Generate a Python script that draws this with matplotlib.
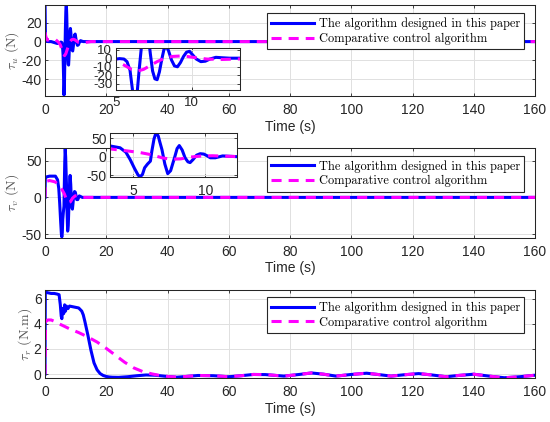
import matplotlib
matplotlib.use("Agg")
import matplotlib.pyplot as plt

plt.rcParams['font.family'] = ['Liberation Sans', 'DejaVu Sans']
plt.rcParams['mathtext.fontset'] = 'cm'
plt.rcParams['axes.unicode_minus'] = False

# ---------------- data ----------------
# tau_u
tu_blue_t = [0, 0.15, 0.4, 1.0, 2.0, 3.0, 4.0, 4.8, 5.2, 5.5, 5.7, 5.9, 6.05, 6.2, 6.35, 6.5, 6.65,
             6.8, 6.95, 7.1, 7.25, 7.4, 7.55, 7.7, 7.85, 8.0, 8.15, 8.3, 8.45, 8.65, 8.85, 9.05, 9.25,
             9.45, 9.65, 9.85, 10.05, 10.3, 10.6, 10.9, 11.2, 11.6, 12.0, 12.5, 13.0, 14.0, 160]
tu_blue_v = [45, 2, 0.5, 0, 0, -1, -2, -1.5, -0.5, -1, -4, -14, -35, -57, -45, -15, 12,
             32, 42, 28, 5, -15, -24, -25, -16, -2, 10, 14, 9, -2, -9, -10, -5,
             2, 7, 8, 4, -1, -4, -3.5, -1, 1, 0.5, 0, 0, 0, 0]
tu_mag_t = [0, 0.3, 0.8, 1.5, 2.5, 3.5, 4.5, 5.0, 5.5, 6.0, 6.4, 6.8, 7.2, 7.7, 8.2, 8.7, 9.2,
            9.7, 10.3, 11.0, 12.0, 13.0, 15.0, 160]
tu_mag_v = [10, 5, 1.5, 2, 3, 2, -1, -3.5, -8, -13, -15, -13, -9, -4, 0, 2, 2.5,
            2, 0.5, -1, -1.5, -1, 0, 0]

# tau_v
tv_blue_t = [0, 0.1, 0.5, 1.5, 2.5, 3.4, 4.1, 4.5, 4.8, 5.1, 5.35, 5.5, 5.65, 5.8, 6.0, 6.2,
             6.3, 6.45, 6.6, 6.75, 6.85, 7.0, 7.2, 7.4, 7.6, 7.9, 8.05, 8.2, 8.4, 8.6, 8.8,
             8.95, 9.15, 9.4, 9.65, 9.9, 10.1, 10.35, 10.7, 11.2, 11.7, 12.2, 13.0, 160]
tv_blue_v = [0, 26, 28, 29, 29, 29, 24, 12, -8, -32, -50, -54, -48, -30, -20, -12,
             15, 48, 66, 55, 40, 19, -20, -46, -38, 1, 22, 30, 18, -3, -14,
             -16, -8, 4, 8, 7, 3, -3, -3, 2, 1, 0, 0, 0]
tv_mag_t = [0, 0.1, 0.5, 1.5, 2.5, 3.4, 4.5, 5.5, 6.3, 7.0, 7.6, 8.3, 9.0, 9.8, 10.5, 11.5,
            12.5, 160]
tv_mag_v = [0, 18, 22, 23, 22, 21, 16, 11, 5, -3, -7, -6, -1, 2, 2.5, 1, 0, 0]

# tau_r
tr_blue_t = [0, 0.1, 1, 2, 3, 4, 4.6, 5.0, 5.3, 5.5, 5.8, 6.1, 6.4, 6.7, 7.0, 7.5, 8.0, 9, 10,
             11, 12, 12.5, 13, 14, 15, 16, 17, 18, 19, 20, 21, 22, 24, 27, 30, 33, 36, 40,
             43, 46, 50, 55, 60, 64, 68, 72, 78, 83, 87, 91, 95, 100, 105, 109, 113, 117,
             122, 126, 131, 135, 140, 145, 150, 155, 160]
tr_blue_v = [0, 6.5, 6.45, 6.4, 6.4, 6.35, 6.3, 5.5, 4.6, 4.4, 5.2, 4.8, 5.5, 5.0, 5.4, 5.2,
             5.4, 5.35, 5.3, 5.25, 5.0, 4.7, 4.2, 3.1, 1.9, 0.9, 0.35, 0.05, -0.1, -0.18,
             -0.22, -0.24, -0.25, -0.2, -0.12, -0.06, -0.08, -0.18, -0.24, -0.18, -0.1,
             -0.12, -0.2, -0.12, -0.02, -0.03, -0.15, -0.02, 0.1, 0.0, -0.15, -0.02, 0.08,
             -0.03, -0.15, -0.05, 0.05, -0.05, -0.2, -0.1, 0.0, -0.15, -0.28, -0.2, -0.08]
tr_mag_t = [0, 0.2, 1, 2, 3, 5, 8, 11, 14, 17, 20, 23, 26, 29, 32, 35, 38, 41, 43, 46, 50,
            55, 60, 64, 68, 72, 78, 83, 87, 91, 95, 100, 105, 109, 113, 117, 122, 126, 131,
            135, 140, 145, 150, 155, 160]
tr_mag_v = [0, 4.2, 4.3, 4.3, 4.2, 3.95, 3.6, 3.3, 2.95, 2.55, 2.05, 1.5, 0.95, 0.5, 0.2,
            0.02, -0.12, -0.2, -0.22, -0.18, -0.1, -0.12, -0.2, -0.12, -0.02, -0.03, -0.15,
            -0.02, 0.1, 0.0, -0.15, -0.02, 0.08, -0.03, -0.15, -0.05, 0.05, -0.05, -0.2,
            -0.1, 0.0, -0.15, -0.28, -0.2, -0.08]

x_ticks = [0, 20, 40, 60, 80, 100, 120, 140, 160]
labels = ['The algorithm designed in this paper', 'Comparative control algorithm']
ylabels = [r'$\tau_u$ (N)', r'$\tau_v$ (N)', r'$\tau_r$ (N.m)']

# ---------------- style ----------------
BLUE = (0, 0, 1)
MAG = (1, 0, 1)
LW = 2.2
DASH = (0, (3.3, 2.3))
FRAME = '#262626'
GRID = '#e0e0e0'
SERIF = ['cmr10', 'DejaVu Serif']

W, H = 550, 422
fig = plt.figure(figsize=(5.5, 4.22), dpi=100)


def rect(l, t, r, b):
    return [l / W, 1 - b / H, (r - l) / W, (b - t) / H]


def style(ax, xpad=5, size=10):
    for s in ax.spines.values():
        s.set_color(FRAME)
        s.set_linewidth(0.75)
    ax.tick_params(direction='in', top=True, right=True, length=2.5, width=0.6,
                   colors=FRAME, labelsize=size)
    ax.tick_params(axis='x', pad=xpad)
    ax.tick_params(axis='y', pad=2.5)
    ax.grid(True, color=GRID, linewidth=0.7)
    ax.set_axisbelow(True)


def draw(ax, bt, bv, mt, mv):
    ax.plot(bt, bv, color=BLUE, lw=LW, solid_joinstyle='round', label=labels[0])
    ax.plot(mt, mv, color=MAG, lw=LW, ls=DASH, dash_capstyle='butt', label=labels[1])


main_rects = [rect(45, 5, 535, 96), rect(45, 148.3, 535, 237.7), rect(45, 290.3, 535, 378)]
ylims = [(-58, 39), (-55, 67), (-0.3, 6.65)]
yticks = [[-40, -20, 0, 20], [-50, 0, 50], [0, 2, 4, 6]]
leg_y = [0.909, 0.917, 0.924]
data = [(tu_blue_t, tu_blue_v, tu_mag_t, tu_mag_v),
        (tv_blue_t, tv_blue_v, tv_mag_t, tv_mag_v),
        (tr_blue_t, tr_blue_v, tr_mag_t, tr_mag_v)]

for i in range(3):
    ax = fig.add_axes(main_rects[i])
    draw(ax, *data[i])
    ax.set_xlim(0, 160)
    ax.set_ylim(*ylims[i])
    ax.set_xticks(x_ticks)
    ax.set_yticks(yticks[i])
    style(ax)
    ax.set_xlabel('Time (s)', fontsize=10, color=FRAME, labelpad=2)
    ax.set_ylabel(ylabels[i], fontsize=10, color='#555555', labelpad=0, family=SERIF)
    leg = ax.legend(loc='upper right', bbox_to_anchor=(0.978, leg_y[i]), borderaxespad=0,
                    prop={'family': SERIF, 'size': 8.9},
                    fancybox=False, framealpha=1, edgecolor=FRAME,
                    handlelength=3.5, handletextpad=0.35, borderpad=0.35, labelspacing=0.2)
    leg.get_frame().set_linewidth(0.8)

# insets
ins1 = fig.add_axes(rect(115.7, 48.3, 240, 90))
draw(ins1, *data[0])
ins1.set_xlim(4.95, 13.2)
ins1.set_ylim(-37, 11.5)
ins1.set_xticks([5, 10])
ins1.set_yticks([-30, -20, -10, 0, 10])
style(ins1, size=9.5)

ins2 = fig.add_axes(rect(110, 133, 237, 177))
draw(ins2, *data[1])
ins2.set_xlim(3.4, 12.2)
ins2.set_ylim(-55, 64)
ins2.set_xticks([5, 10])
ins2.set_yticks([-50, 0, 50])
style(ins2)

fig.savefig('out.png', dpi=100)
